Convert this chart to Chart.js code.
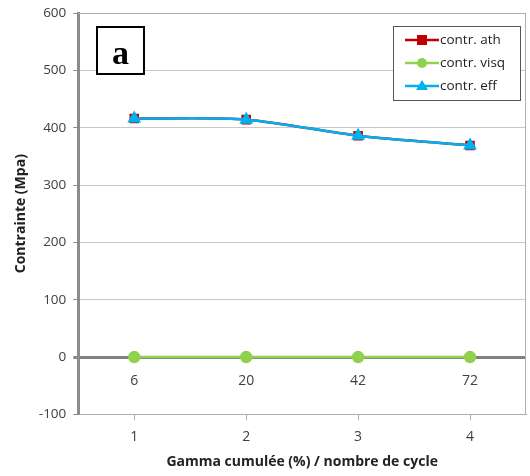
<!DOCTYPE html>
<html>
<head>
<meta charset="utf-8">
<script src="https://cdn.jsdelivr.net/npm/chart.js@4.4.1/dist/chart.umd.min.js"></script>
<style>
html,body{margin:0;padding:0;background:#fff;}
#wrap{width:530px;height:476px;position:relative;}
</style>
</head>
<body>
<div id="wrap"><canvas id="c" width="530" height="476"></canvas></div>
<script>
const categories = ['1', '2', '3', '4'];
const cycleLabels = ['6', '20', '42', '72'];
const contrAth = [416, 414, 386, 369];
const contrVisq = [0, 0, 0, 0];
const contrEff = [416, 414, 386, 369];
const yTicks = [-100, 0, 100, 200, 300, 400, 500, 600];

const FONT = '"Open Sans", "Liberation Sans", sans-serif';

const extras = {
  id: 'extras',
  afterDraw(chart) {
    const ctx = chart.ctx;
    const x = chart.scales.x, y = chart.scales.y;
    const area = chart.chartArea;
    ctx.save();
    // top and right plot border
    ctx.strokeStyle = '#b0b0b0';
    ctx.lineWidth = 1;
    ctx.beginPath();
    ctx.moveTo(area.left, area.top + 0.5);
    ctx.lineTo(area.right, area.top + 0.5);
    ctx.moveTo(area.right - 0.5, area.top);
    ctx.lineTo(area.right - 0.5, area.bottom);
    ctx.stroke();
    // cycle labels below zero line
    ctx.fillStyle = '#404040';
    ctx.font = '14px ' + FONT;
    ctx.textAlign = 'center';
    ctx.textBaseline = 'middle';
    cycleLabels.forEach((t, i) => {
      ctx.fillText(t, x.getPixelForValue(i), y.getPixelForValue(0) + 24);
    });
    // "a" box
    ctx.fillStyle = '#fff';
    ctx.fillRect(97, 27, 47, 47);
    ctx.strokeStyle = '#000';
    ctx.lineWidth = 2;
    ctx.strokeRect(97, 27, 47, 47);
    ctx.fillStyle = '#000';
    ctx.font = 'bold 34px "Liberation Serif", "DejaVu Serif", serif';
    ctx.textAlign = 'center';
    ctx.textBaseline = 'alphabetic';
    ctx.fillText('a', 120.5, 64);
    // legend
    const lx = 393, ly = 26, lw = 127, lh = 74;
    ctx.fillStyle = '#fff';
    ctx.fillRect(lx, ly, lw, lh);
    ctx.strokeStyle = '#555';
    ctx.lineWidth = 1;
    ctx.strokeRect(lx + 0.5, ly + 0.5, lw, lh);
    chart.data.datasets.forEach((ds, i) => {
      const cy = ly + 14 + i * 23;
      ctx.strokeStyle = ds.borderColor;
      ctx.lineWidth = 2.5;
      ctx.beginPath();
      ctx.moveTo(lx + 12, cy);
      ctx.lineTo(lx + 46, cy);
      ctx.stroke();
      ctx.fillStyle = ds.pointBackgroundColor;
      const mx = lx + 29;
      if (ds.pointStyle === 'rect') {
        ctx.fillRect(mx - 5, cy - 5, 10, 10);
      } else if (ds.pointStyle === 'circle') {
        ctx.beginPath(); ctx.arc(mx, cy, 5, 0, Math.PI * 2); ctx.fill();
      } else {
        ctx.beginPath();
        ctx.moveTo(mx, cy - 6); ctx.lineTo(mx + 6, cy + 4); ctx.lineTo(mx - 6, cy + 4);
        ctx.closePath(); ctx.fill();
      }
      ctx.fillStyle = '#222';
      ctx.font = '13.5px ' + FONT;
      ctx.textAlign = 'left';
      ctx.textBaseline = 'middle';
      ctx.fillText(ds.label, lx + 47, cy);
    });
    ctx.restore();
  }
};

new Chart(document.getElementById('c'), {
  type: 'line',
  data: {
    labels: categories,
    datasets: [
      { label: 'contr. ath', data: contrAth, borderColor: '#C00000', backgroundColor: '#C00000',
        pointBackgroundColor: '#C00000', pointBorderColor: '#C00000', pointStyle: 'rect', pointRadius: 5,
        borderWidth: 2.5, tension: 0.3, order: 3 },
      { label: 'contr. visq', data: contrVisq, borderColor: '#92D050', backgroundColor: '#92D050',
        pointBackgroundColor: '#92D050', pointBorderColor: '#92D050', pointStyle: 'circle', pointRadius: 5,
        borderWidth: 2.5, tension: 0.3, order: 2 },
      { label: 'contr. eff', data: contrEff, borderColor: '#00B0F0', backgroundColor: '#00B0F0',
        pointBackgroundColor: '#00B0F0', pointBorderColor: '#00B0F0', pointStyle: 'triangle', pointRadius: 5.5,
        borderWidth: 2.5, tension: 0.3, order: 1 }
    ]
  },
  options: {
    responsive: false,
    animation: false,
    layout: { autoPadding: false, padding: { left: 13, right: 4, top: 13, bottom: 6 } },
    plugins: { legend: { display: false }, tooltip: { enabled: false } },
    scales: {
      x: {
        offset: true,
        afterFit(scale) { scale.paddingLeft = 0; scale.paddingRight = 0; },
        grid: { drawOnChartArea: false, drawTicks: true, tickLength: 6, color: '#b0b0b0', offset: false },
        border: { display: true, color: '#b0b0b0', width: 1 },
        ticks: { color: '#404040', font: { family: FONT, size: 14 }, padding: 8 },
        title: { display: true, text: 'Gamma cumulée (%) / nombre de cycle', color: '#222',
                 font: { family: FONT, size: 14, weight: 'bold' }, padding: { top: 0, bottom: 0 } }
      },
      y: {
        min: -100, max: 600,
        afterBuildTicks(scale) { scale.ticks = yTicks.map(v => ({ value: v })); },
        afterFit(scale) { scale.paddingTop = 0; scale.paddingBottom = 0; },
        grid: {
          color: c => c.tick && c.tick.value === 0 ? '#808080' : '#c8c8c8',
          lineWidth: c => c.tick && c.tick.value === 0 ? 3 : 1,
          tickColor: '#888', tickLength: 5, drawTicks: true
        },
        border: { display: true, color: '#8c8c8c', width: 3 },
        ticks: { color: '#404040', font: { family: FONT, size: 13.5 }, padding: 7 },
        title: { display: true, text: 'Contrainte (Mpa)', color: '#222',
                 font: { family: FONT, size: 14, weight: 'bold' }, padding: { top: 0, bottom: 2 } }
      }
    }
  },
  plugins: [extras]
});
</script>
</body>
</html>
